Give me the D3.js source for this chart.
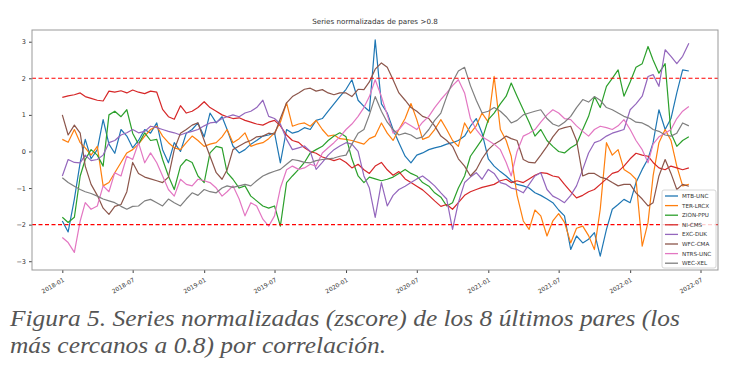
<!DOCTYPE html>
<html><head><meta charset="utf-8">
<script src="https://cdn.jsdelivr.net/npm/d3@7/dist/d3.min.js"></script>
<style>
body{margin:0;background:#fff;}
svg .ax text, svg .lbl{font-family:"DejaVu Sans",sans-serif;}
svg .cap{font-family:"Liberation Serif","DejaVu Serif",serif;font-style:italic;}
</style></head>
<body><svg id="c" width="739" height="366"></svg>
<script>
// Semi-monthly samples starting 2018-01-01 (1st and 16th of each month)
const startYear = 2018;
const seriesNames = ["MTB-UNC","TER-LRCX","ZION-PPU","NI-CMS","EXC-DUK","WFC-CMA","NTRS-UNC","WEC-XEL"];
const seriesColors = ["#1f77b4","#ff7f0e","#2ca02c","#d62728","#9467bd","#8c564b","#e377c2","#7f7f7f"];

const mtbUnc = [
 -1.9,-2.2,-1.3,-0.3,0.33,-0.2,0.05,0.87,0.2,-0.05,0.6,0.42,
 0.1,0.3,0.6,0.5,0.78,0.05,-0.31,0.24,0.0,0.5,0.6,0.78,
 0.4,1.05,0.78,0.95,0.6,0.15,-0.04,0.05,0.2,0.3,0.42,0.45,
 0.51,-0.31,0.6,0.5,0.55,0.65,0.6,0.85,0.9,1.1,1.3,1.5,
 1.7,1.96,1.4,1.23,1.1,3.05,1.3,1.05,0.6,0.24,-0.13,-0.31,
 -0.1,-0.04,0.05,0.1,0.14,0.2,0.24,0.3,0.42,0.69,0.9,0.5,
 -0.2,-0.4,-0.55,-0.67,-0.8,-0.9,-0.94,-1.0,-1.13,-1.2,-1.3,-1.4,
 -1.6,-1.76,-2.68,-2.31,-2.5,-2.4,-2.22,-2.86,-2.13,-1.58,-1.45,-1.31,
 -1.4,-0.85,-0.49,-0.2,0.24,1.14,0.6,0.9,1.6,2.23,2.2];
const terLrcx = [
 0.33,0.25,0.6,0.24,0.1,-0.1,0.14,-0.94,-0.85,-0.58,-0.3,-0.04,
 0.05,0.2,0.42,0.6,0.69,0.42,0.24,0.1,0.05,0.24,0.42,0.3,
 0.14,0.2,0.24,0.4,0.6,0.24,0.35,0.51,0.14,0.2,0.24,0.35,
 0.51,0.8,1.33,0.69,0.75,0.78,0.69,0.85,0.6,0.42,0.45,0.35,
 0.33,0.3,0.25,0.2,0.35,0.42,0.78,0.5,0.3,0.6,0.9,1.31,
 0.87,0.33,0.4,0.6,0.87,0.6,0.3,0.14,0.78,0.5,0.7,1.05,
 0.8,2.05,0.6,0.3,-0.13,-1.2,-1.9,-2.13,-1.6,-1.76,-2.31,-1.9,
 -1.7,-1.94,-2.5,-2.1,-2.04,-2.3,-2.68,-1.58,0.24,-0.1,0.05,-0.49,
 -0.6,-0.76,-2.59,-1.94,-0.67,0.24,0.6,0.3,-0.4,-0.94,-0.9];
const zionPpu = [
 -1.8,-1.94,-1.8,-0.67,-0.22,0.05,-0.1,-0.4,1.0,1.1,0.95,1.14,
 0.5,0.2,0.51,0.3,0.33,-0.22,-0.67,-1.04,-0.4,-0.22,-0.3,-0.67,
 -0.85,-0.04,0.14,0.1,-0.58,-0.76,-1.0,-0.94,-1.22,-1.35,-1.49,-1.55,
 -1.49,-2.04,-0.85,-0.67,-0.49,-0.3,-0.04,0.05,0.14,0.3,0.42,0.51,
 0.4,-0.2,-0.67,-0.85,-0.7,-0.75,-0.8,-0.76,-0.7,-0.6,-0.49,-0.6,
 -0.67,-0.85,-0.95,-1.13,-1.25,-1.49,-1.4,-1.0,-0.67,-0.13,0.1,0.33,
 0.87,1.05,1.3,1.51,1.87,1.51,1.14,0.8,0.42,0.6,0.3,0.14,
 0.0,-0.04,0.1,0.2,0.6,0.96,1.5,1.2,1.78,2.0,2.23,1.51,
 1.9,2.3,2.4,2.87,2.5,2.14,2.4,0.5,0.14,0.3,0.4];
const niCms = [
 1.48,1.52,1.55,1.6,1.5,1.45,1.4,1.38,1.65,1.62,1.66,1.6,
 1.68,1.62,1.58,1.65,1.62,1.15,0.95,0.88,1.25,1.05,1.1,1.2,
 1.36,1.2,1.1,1.0,0.95,0.9,0.92,0.85,0.8,0.75,0.72,0.8,
 0.85,0.7,0.45,0.3,0.25,0.1,0.0,-0.05,-0.15,-0.2,-0.25,-0.2,
 -0.3,-0.45,-0.35,-0.5,-0.6,-0.4,-0.3,-0.5,-0.65,-0.55,-0.75,-0.85,
 -0.95,-1.05,-1.2,-1.35,-1.5,-1.45,-1.58,-1.4,-1.2,-1.1,-1.04,-0.98,
 -0.94,-0.9,-0.8,-0.76,-0.85,-0.8,-0.85,-0.75,-0.65,-0.58,-0.6,-0.67,
 -0.7,-0.9,-1.1,-1.27,-1.2,-1.1,-1.04,-0.9,-0.75,-0.6,-0.55,-0.4,
 -0.2,-0.05,-0.1,-0.13,-0.3,-0.45,-0.5,-0.4,-0.45,-0.5,-0.45];
const excDuk = [
 -0.67,-0.22,-0.3,-0.31,-0.1,-0.25,-0.22,-0.1,0.24,0.3,0.45,0.51,
 0.6,0.51,0.55,0.69,0.65,0.6,0.55,0.51,0.45,0.51,0.55,0.6,
 0.7,0.78,0.8,0.9,0.95,1.0,0.95,1.05,1.1,1.2,1.4,0.96,
 0.9,0.75,0.33,0.05,0.1,0.15,0.0,-0.49,-0.3,-0.1,0.05,0.15,
 0.24,0.2,0.0,-0.67,-1.0,-1.8,-0.85,-1.49,-1.2,-1.04,-0.95,-0.85,
 -0.75,-0.67,-0.8,-0.94,-1.13,-1.3,-2.13,-1.4,-0.85,-0.7,-0.58,-0.76,
 -0.49,-0.6,-0.85,-0.9,-1.0,-1.04,-1.13,-0.9,-0.67,-0.58,-1.04,-1.22,
 -1.3,-1.4,-1.2,-0.94,-0.49,-0.04,0.24,0.3,0.42,0.5,0.55,0.6,
 1.14,1.3,1.51,2.05,2.1,1.78,2.78,2.6,2.4,2.6,2.96];
const wfcCma = [
 1.0,0.45,0.72,0.5,-0.4,-0.9,-1.2,-1.55,-1.72,-1.5,-1.45,-1.1,
 -0.3,-0.6,-0.7,-0.75,-0.8,-0.85,-0.7,0.05,0.5,0.6,0.72,0.78,
 0.3,-0.13,-0.58,-0.76,-0.5,0.05,0.15,0.24,0.3,0.4,0.42,0.5,
 0.47,0.9,1.33,1.5,1.6,1.7,1.73,1.65,1.69,1.6,1.55,1.6,
 1.6,1.5,1.7,1.69,1.9,2.25,2.42,2.3,1.96,1.6,1.4,1.2,
 1.1,0.96,0.9,0.7,0.42,0.3,0.14,-0.2,-0.4,-0.67,-0.5,-0.2,
 0.05,0.2,0.3,0.42,0.35,0.3,-0.22,-0.3,-0.31,-0.1,0.14,0.4,
 0.6,0.65,0.69,0.3,-0.67,-0.6,-0.6,-0.7,-0.75,-0.85,-0.94,-0.9,
 -0.9,-1.13,-1.3,-1.49,-1.4,-0.67,-0.22,-0.6,-1.04,-0.9,-0.95];
const ntrsUnc = [
 -2.35,-2.49,-2.76,-1.9,-1.4,-1.58,-1.49,-0.94,-1.1,-0.58,-0.67,-0.13,
 -0.22,0.24,-0.31,-0.04,-0.31,-0.67,-1.04,-1.22,-0.76,-0.9,-0.94,-0.76,
 -0.8,-0.85,-1.0,-1.22,-1.1,-0.94,-1.3,-1.76,-1.4,-1.49,-1.85,-2.04,
 -1.76,-1.0,-0.5,-0.4,-0.49,-0.45,-0.35,-0.4,-0.04,0.1,0.24,0.4,
 0.6,0.75,0.96,1.2,1.5,1.96,1.5,1.0,0.5,0.6,0.8,0.7,
 0.6,0.8,0.96,1.2,1.42,1.6,1.8,1.96,1.6,0.9,0.6,0.4,
 0.3,0.2,0.05,-0.3,-0.67,0.0,0.42,0.5,0.6,0.8,1.0,1.14,
 1.05,0.9,0.87,0.7,0.55,0.42,0.6,0.69,0.65,0.6,0.7,0.87,
 0.6,0.3,0.05,-0.31,0.2,0.4,0.5,0.6,0.9,1.1,1.23];
const wecXel = [
 -0.72,-0.85,-0.95,-1.04,-1.1,-1.15,-1.22,-1.3,-1.35,-1.4,-1.5,-1.58,
 -1.5,-1.49,-1.35,-1.31,-1.4,-1.49,-1.3,-1.4,-1.49,-1.3,-1.13,-1.2,
 -1.04,-1.1,-1.13,-1.0,-0.94,-0.98,-0.94,-0.9,-0.94,-0.8,-0.67,-0.6,
 -0.54,-0.49,-0.35,-0.22,-0.25,-0.3,-0.31,-0.25,-0.22,-0.2,-0.18,-0.13,
 -0.1,0.2,0.5,0.6,1.0,1.5,1.1,0.8,0.6,0.45,0.5,0.45,
 0.35,0.4,0.6,0.85,1.05,1.5,1.9,2.2,2.3,1.8,1.4,1.05,
 1.1,1.2,1.1,0.95,0.78,0.85,1.0,1.05,1.1,1.14,0.9,0.75,
 0.69,0.8,0.96,1.2,1.42,1.35,1.5,1.4,1.2,1.14,1.05,0.96,
 0.9,0.8,0.78,0.7,0.6,0.55,0.45,0.42,0.5,0.78,0.7];
const seriesValues = [mtbUnc, terLrcx, zionPpu, niCms, excDuk, wfcCma, ntrsUnc, wecXel];

const xTickLabels = ["2018-01","2018-07","2019-01","2019-07","2020-01","2020-07","2021-01","2021-07","2022-01","2022-07"];
const yTickValues = [-3,-2,-1,0,1,2,3];
const thresholds = [2,-2];
const titleText = "Series normalizadas de pares >0.8";
const captionLines = ["Figura 5. Series normalizadas (zscore) de los 8 últimos pares (los","más cercanos a 0.8) por correlación."];

const dateOf = i => new Date(startYear, Math.floor(i/2), i%2 ? 16 : 1);
const parseM = d3.timeParse("%Y-%m");

const svg = d3.select("#c");
const L=32, R=718, T=30, B=270;
const x = d3.scaleTime().domain([new Date(2017,9,15), new Date(2022,7,15)]).range([L,R]);
const y = d3.scaleLinear().domain([-3.24,3.32]).range([B,T]);

// title
svg.append("text").attr("class","lbl").attr("x",(L+R)/2).attr("y",24).attr("text-anchor","middle")
  .attr("font-size",7.2).attr("fill","#333").text(titleText);

const clip = svg.append("defs").append("clipPath").attr("id","pc");
clip.append("rect").attr("x",L).attr("y",T).attr("width",R-L).attr("height",B-T);

const g = svg.append("g").attr("clip-path","url(#pc)");
const line = d3.line().x((d,i)=>x(dateOf(i))).y(d=>y(d));
seriesValues.forEach((vals,k)=>{
  g.append("path").datum(vals).attr("d",line).attr("fill","none")
   .attr("stroke",seriesColors[k]).attr("stroke-width",1.2).attr("stroke-linejoin","round");
});
thresholds.forEach(t=>{
  g.append("line").attr("x1",L).attr("x2",R).attr("y1",y(t)).attr("y2",y(t))
   .attr("stroke","#ff0000").attr("stroke-width",1.1).attr("stroke-dasharray","4,2.5");
});

// axes
const xa = svg.append("g").attr("class","ax").attr("transform",`translate(0,${B})`)
  .call(d3.axisBottom(x).tickValues(xTickLabels.map(parseM)).tickFormat(d3.timeFormat("%Y-%m")).tickSize(3).tickSizeOuter(0));
xa.select(".domain").remove();
xa.selectAll("line").attr("stroke","#444");
xa.selectAll("text").attr("font-size",6).attr("fill","#333")
  .attr("text-anchor","end").attr("dy",0).attr("dx",0)
  .attr("transform","translate(-1,6) rotate(-30)");
const ya = svg.append("g").attr("class","ax").attr("transform",`translate(${L},0)`)
  .call(d3.axisLeft(y).tickValues(yTickValues).tickFormat(d=>d<0?"\u2212"+Math.abs(d):d).tickSize(3).tickSizeOuter(0));
ya.select(".domain").remove();
ya.selectAll("line").attr("stroke","#444");
ya.selectAll("text").attr("font-size",6.5).attr("fill","#333");

svg.append("rect").attr("x",L).attr("y",T).attr("width",R-L).attr("height",B-T)
  .attr("fill","none").attr("stroke","#999").attr("stroke-width",1);

// legend
const lg = svg.append("g");
const lx=662, ly=190, lw=54, lh=78;
lg.append("rect").attr("x",lx).attr("y",ly).attr("width",lw).attr("height",lh).attr("rx",2)
  .attr("fill","#fff").attr("fill-opacity",0.8).attr("stroke","#ccc").attr("stroke-width",0.8);
seriesNames.forEach((n,k)=>{
  const yy = ly+6+k*9.6;
  lg.append("line").attr("x1",lx+3).attr("x2",lx+16).attr("y1",yy).attr("y2",yy)
    .attr("stroke",seriesColors[k]).attr("stroke-width",1.3);
  lg.append("text").attr("class","lbl").attr("x",lx+20).attr("y",yy+2).attr("font-size",5.6).attr("fill","#333").text(n);
});

// caption: natural font then horizontally stretched to the reference width
const capFs = 23;
const cap = svg.append("g");
captionLines.forEach((t,i)=>{
  cap.append("text").attr("class","cap").attr("x",10).attr("y",326+i*27)
    .attr("font-size",capFs).attr("fill","#555").text(t);
});
const widths = cap.selectAll("text").nodes().map(n=>n.getComputedTextLength());
const ratio = 670/widths[0];
cap.selectAll("text").each(function(d,i){
  d3.select(this).attr("textLength",widths[i]*ratio).attr("lengthAdjust","spacingAndGlyphs");
});
</script></body></html>
